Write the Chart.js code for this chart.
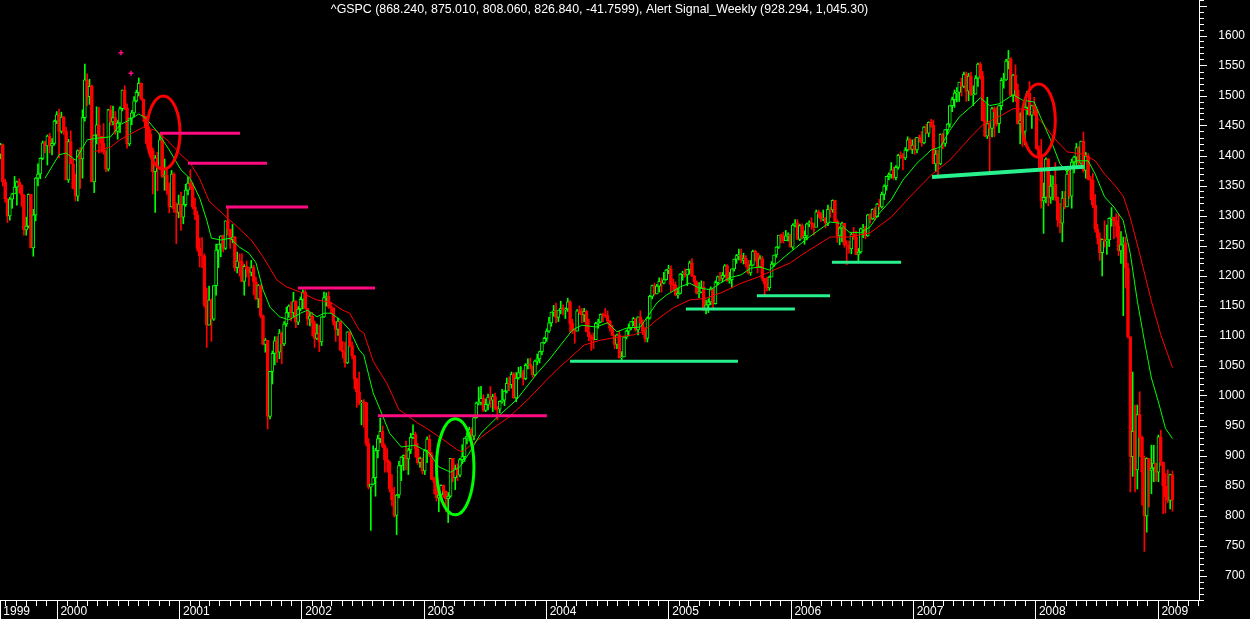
<!DOCTYPE html>
<html>
<head>
<meta charset="utf-8">
<title>^GSPC weekly</title>
<script src="https://cdn.jsdelivr.net/npm/chart.js@4.4.1/dist/chart.umd.min.js"></script>
<style>
  html, body { margin: 0; padding: 0; background: #000; }
  canvas { display: block; background: #000; }
</style>
</head>
<body>
<canvas id="chart" width="1250" height="619"></canvas>
<script>
// weekly bars, first bar = week ending 1999-07-16, last = 2009-02-13
const firstOpen = 1403;
const closes = [
  1419,1357,1329,1300,1328,1337,1348,1357,1352,1335,1277,1283,1336,1247,1302,1363,1370,1396,1422,1417,1433,1417,1421,1458,1469,
  1441,1465,1441,1360,1424,1387,1346,1333,1409,1395,1464,1527,1499,1516,1357,1435,1452,1433,1421,1407,1378,1477,1457,1464,1441,1455,1479,1510,1480,1420,1463,1472,1492,1506,1521,1495,1466,1449,1437,1409,1374,1397,1380,1427,1366,1368,1342,1315,1370,1312,1306,1320,
  1298,1319,1343,1355,1349,1315,1302,1246,1234,1233,1151,1118,1160,1128,1184,1243,1253,1267,1246,1292,1278,1261,1265,1214,1225,1224,1191,1216,1211,1206,1214,1190,1162,1185,1134,1086,1093,966,1041,1071,1092,1073,1105,1087,1120,1139,1150,1139,1158,1123,1145,1161,
  1173,1146,1128,1133,1122,1096,1104,1090,1132,1164,1166,1149,1147,1123,1111,1125,1076,1073,1055,1107,1084,1067,1028,1007,989,990,989,921,848,853,864,909,929,941,916,894,890,845,827,801,835,884,898,901,895,910,931,936,912,889,896,875,
  909,928,902,861,856,830,835,851,841,829,833,896,864,879,868,894,899,930,933,944,933,964,988,989,996,976,986,998,993,999,980,978,991,993,1008,1021,1019,1036,997,1030,1039,1039,1029,1051,1053,1050,1035,1058,1062,1074,1089,1096,
  1108,1122,1140,1142,1131,1143,1146,1144,1145,1157,1121,1110,1108,1142,1139,1135,1141,1107,1099,1096,1094,1121,1123,1136,1135,1134,1125,1113,1101,1086,1102,1064,1065,1098,1108,1114,1124,1129,1110,1132,1122,1108,1096,1130,1166,1184,1170,1183,1191,1188,1194,1210,1212,
  1186,1185,1168,1171,1203,1205,1202,1211,1222,1200,1190,1171,1173,1181,1143,1152,1157,1179,1154,1189,1199,1196,1201,1217,1192,1194,1212,1228,1234,1235,1226,1230,1220,1205,1218,1241,1238,1215,1229,1196,1187,1180,1198,1220,1235,1248,1268,1265,1259,1267,1269,1248,
  1285,1288,1261,1284,1264,1267,1287,1289,1287,1281,1307,1303,1295,1296,1288,1311,1310,1326,1291,1267,1280,1288,1252,1251,1245,1270,1265,1236,1240,1279,1280,1267,1302,1295,1311,1299,1320,1315,1336,1350,1366,1369,1377,1364,1381,1401,1400,1397,1410,1427,1411,1418,
  1410,1431,1430,1422,1448,1438,1456,1451,1387,1403,1387,1436,1421,1444,1453,1484,1494,1505,1506,1523,1516,1536,1508,1533,1502,1503,1530,1553,1534,1459,1433,1454,1446,1479,1474,1454,1484,1526,1527,1558,1562,1501,1535,1510,1454,1459,1441,1481,1505,1468,1484,1478,
  1412,1401,1325,1331,1395,1331,1350,1353,1331,1293,1288,1330,1315,1370,1333,1390,1398,1414,1388,1425,1376,1400,1361,1360,1318,1278,1263,1239,1261,1258,1260,1296,1298,1292,1283,1242,1252,1255,1213,1099,899,941,877,969,931,873,800,896,876,880,888,873,
  932,890,850,832,826,869,827
];
const highs = [
  1421,1420,1361,1329,1331,1338,1366,1358,1362,1352,1336,1298,1337,1336,1311,1364,1387,1397,1425,1425,1435,1438,1429,1460,1474,
  1478,1473,1466,1448,1428,1442,1395,1370,1410,1414,1477,1553,1537,1528,1518,1435,1482,1481,1430,1454,1410,1478,1484,1483,1474,1459,1482,1510,1517,1487,1463,1476,1499,1510,1530,1522,1495,1466,1461,1443,1413,1401,1406,1437,1438,1395,1379,1355,1376,1372,1322,1335,
  1340,1333,1353,1365,1377,1355,1330,1308,1263,1264,1237,1180,1183,1162,1184,1253,1253,1267,1268,1292,1316,1278,1286,1266,1240,1237,1237,1219,1225,1215,1226,1218,1198,1186,1185,1135,1096,1092,1041,1075,1099,1099,1111,1107,1124,1148,1152,1157,1173,1159,1149,1165,
  1177,1176,1146,1139,1139,1125,1120,1118,1132,1173,1172,1174,1156,1147,1124,1130,1125,1091,1090,1107,1107,1090,1068,1030,1040,993,994,990,929,853,917,913,935,963,950,920,912,892,869,848,836,891,899,902,925,913,938,952,940,921,898,897,
  911,932,935,906,865,865,843,852,852,842,839,896,896,885,887,896,919,930,939,948,947,965,990,1015,1016,1002,995,1003,1016,1003,1005,982,992,1011,1009,1030,1032,1040,1039,1039,1048,1049,1043,1054,1062,1063,1050,1060,1070,1075,1089,1098,
  1112,1131,1140,1151,1155,1143,1158,1152,1147,1163,1159,1128,1111,1144,1150,1146,1146,1143,1128,1102,1105,1123,1128,1137,1138,1146,1142,1126,1118,1102,1103,1108,1074,1099,1110,1120,1124,1131,1129,1132,1142,1127,1114,1131,1168,1185,1188,1186,1197,1197,1206,1211,1218,
  1217,1195,1190,1180,1204,1208,1212,1211,1225,1229,1201,1192,1189,1192,1191,1160,1162,1182,1177,1192,1200,1206,1206,1219,1219,1206,1212,1228,1236,1245,1245,1238,1234,1226,1226,1243,1243,1238,1234,1233,1196,1198,1200,1224,1235,1249,1268,1270,1273,1276,1272,1270,
  1287,1294,1294,1286,1287,1275,1288,1292,1297,1288,1310,1310,1306,1310,1298,1318,1315,1327,1326,1294,1282,1290,1288,1259,1258,1272,1281,1275,1246,1280,1286,1283,1303,1304,1312,1314,1321,1328,1340,1352,1366,1372,1389,1382,1384,1403,1407,1404,1414,1432,1430,1427,
  1429,1431,1435,1441,1449,1453,1457,1461,1460,1410,1410,1437,1438,1444,1454,1484,1498,1510,1514,1523,1530,1540,1540,1538,1540,1517,1534,1555,1556,1541,1488,1498,1456,1481,1482,1482,1485,1530,1538,1561,1576,1564,1536,1552,1520,1472,1463,1489,1508,1524,1485,1498,
  1478,1417,1428,1355,1397,1396,1368,1367,1389,1332,1321,1341,1341,1380,1380,1395,1400,1421,1416,1425,1440,1406,1404,1366,1371,1336,1286,1272,1262,1292,1285,1297,1314,1298,1304,1303,1274,1265,1265,1221,1098,1040,985,985,1007,933,900,897,896,918,918,888,
  935,943,890,871,877,870,875
];
const lows = [
  1395,1350,1323,1289,1293,1313,1338,1318,1338,1316,1268,1268,1280,1247,1233,1292,1350,1362,1394,1405,1385,1405,1402,1418,1454,
  1397,1438,1436,1360,1356,1387,1345,1325,1325,1346,1363,1458,1484,1486,1357,1339,1420,1405,1406,1403,1374,1375,1451,1452,1436,1428,1439,1475,1477,1413,1417,1452,1465,1490,1500,1493,1457,1421,1425,1405,1337,1306,1342,1379,1364,1343,1336,1305,1315,1306,1254,1297,
  1276,1287,1316,1335,1344,1312,1294,1241,1215,1214,1148,1081,1118,1091,1126,1168,1214,1232,1240,1244,1268,1246,1255,1208,1205,1200,1190,1168,1198,1183,1200,1169,1160,1147,1130,1085,1073,945,962,1020,1052,1056,1062,1054,1084,1116,1131,1125,1132,1114,1119,1142,
  1145,1145,1118,1117,1100,1081,1094,1074,1084,1131,1150,1146,1139,1118,1091,1101,1076,1063,1048,1054,1082,1062,1012,981,985,952,948,917,845,776,852,833,897,922,914,873,873,840,817,798,769,830,859,876,877,869,904,929,898,886,881,870,
  869,889,899,860,837,825,807,828,831,807,789,831,857,844,859,865,887,891,920,925,915,927,963,985,985,974,974,977,981,974,977,960,972,988,984,1005,1009,1013,996,990,1028,1031,1018,1027,1045,1045,1031,1034,1052,1055,1069,1087,
  1091,1106,1116,1133,1122,1124,1137,1135,1129,1141,1106,1104,1088,1108,1136,1122,1124,1107,1092,1076,1079,1094,1113,1122,1124,1131,1120,1108,1101,1079,1079,1063,1060,1065,1095,1100,1110,1117,1108,1102,1120,1102,1090,1090,1128,1162,1168,1170,1173,1173,1187,1193,1204,
  1173,1176,1167,1163,1170,1193,1198,1184,1203,1199,1184,1170,1164,1172,1142,1137,1139,1152,1146,1153,1185,1192,1190,1198,1191,1188,1181,1208,1221,1227,1222,1220,1215,1203,1201,1217,1225,1205,1214,1192,1168,1175,1176,1201,1216,1231,1246,1255,1255,1259,1258,1248,
  1245,1282,1261,1259,1262,1253,1260,1282,1278,1268,1282,1298,1291,1292,1280,1284,1298,1306,1290,1256,1252,1257,1248,1219,1238,1237,1261,1235,1225,1238,1264,1262,1266,1288,1294,1293,1298,1310,1313,1327,1343,1360,1363,1361,1360,1378,1396,1377,1394,1408,1410,1404,
  1403,1405,1423,1416,1420,1437,1432,1448,1387,1374,1364,1385,1412,1416,1437,1448,1474,1481,1490,1491,1500,1514,1491,1492,1501,1484,1503,1516,1528,1458,1432,1429,1371,1432,1432,1450,1439,1477,1513,1526,1545,1500,1490,1491,1453,1420,1416,1419,1469,1467,1446,1468,
  1411,1380,1313,1271,1322,1317,1321,1327,1326,1282,1272,1257,1312,1315,1329,1313,1372,1384,1384,1386,1373,1363,1360,1327,1314,1273,1253,1226,1200,1248,1236,1249,1283,1262,1265,1234,1221,1134,1180,1097,840,866,840,845,899,818,741,773,815,837,857,858,
  857,884,804,805,822,812,808
];

// Alert Signal lines: [week index, level]
const fastMa = [[19,1363],[25,1402],[28,1405],[32,1393],[37,1427],[42,1430],[47,1432],[51,1452],[55,1460],[59,1470],[62,1463],[67,1440],[72,1410],[77,1377],[81,1362],[85,1330],[88,1293],[90,1263],[94,1260],[98,1263],[102,1248],[106,1238],[109,1222],[112,1177],[115,1148],[119,1132],[123,1127],[128,1138],[131,1143],[135,1132],[138,1138],[141,1138],[145,1127],[149,1110],[153,1077],[155,1068],[159,1005],[162,977],[166,938],[171,915],[177,918],[183,905],[187,882],[192,873],[196,882],[200,905],[205,938],[212,965],[220,993],[229,1038],[234,1060],[239,1085],[244,1110],[248,1118],[254,1115],[259,1122],[263,1107],[267,1113],[273,1115],[276,1132],[280,1155],[284,1168],[290,1182],[294,1188],[298,1180],[303,1177],[307,1188],[311,1197],[316,1202],[320,1213],[324,1215],[328,1210],[333,1227],[337,1240],[345,1265],[354,1290],[358,1288],[362,1273],[367,1272],[371,1282],[375,1305],[380,1327],[385,1360],[391,1388],[397,1410],[401,1415],[405,1443],[409,1465],[414,1482],[418,1497],[422,1484],[426,1487],[432,1502],[436,1493],[441,1490],[444,1462],[448,1427],[452,1387],[455,1373],[459,1392],[464,1392],[467,1370],[471,1332],[475,1315],[479,1292],[482,1237],[485,1158],[488,1092],[491,1030],[494,990],[497,946],[500,929]];
const slowMa = [[40,1407],[47,1415],[51,1427],[57,1440],[61,1448],[66,1443],[71,1427],[77,1402],[81,1388],[85,1362],[89,1325],[95,1303],[101,1282],[107,1260],[112,1232],[118,1193],[122,1182],[128,1173],[135,1160],[141,1156],[146,1143],[149,1138],[153,1110],[155,1105],[159,1058],[165,1020],[170,977],[172,972],[178,955],[183,943],[189,927],[195,910],[197,907],[202,922],[209,943],[217,965],[226,998],[233,1027],[239,1050],[242,1060],[249,1085],[256,1093],[263,1098],[270,1102],[274,1107],[280,1127],[287,1147],[294,1160],[301,1163],[308,1173],[316,1188],[323,1198],[330,1210],[337,1222],[341,1233],[345,1243],[354,1265],[362,1265],[371,1272],[380,1298],[388,1332],[397,1368],[405,1393],[414,1432],[419,1452],[424,1462],[428,1470],[432,1479],[439,1477],[445,1453],[449,1432],[455,1407],[462,1403],[467,1392],[471,1370],[475,1353],[479,1333],[482,1297],[486,1237],[491,1158],[495,1102],[500,1047]];

// drawn resistance / support lines: [level at start, level at end, first week, last week]
const resistLines = [[1438,1438,68,102.2],[1388,1388,80,113.7],[1315,1315,96.2,131.2],[1180,1180,126.9,159.8],[967,967,161,233.1]];
const supportLines = [[1058,1058,243,314.6],[1145,1145,292.4,338.9],[1167,1167,322.7,353.9],[1223,1223,354.7,384.2],[1365,1382,397.4,462.2]];
// rings: [centre week, centre level, half width in weeks, half height in points]
const redRings = [[69.5,1439,7.1,61],[442.9,1459,7.1,61]];
const greenRings = [[194,882,8,80]];
const signalMarks = [[51.4,1572],[55.7,1538]];

const yearLabels = ['1999','2000','2001','2002','2003','2004','2005','2006','2007','2008','2009'];
const titleText = '^GSPC (868.240, 875.010, 808.060, 826.840, -41.7599), Alert Signal_Weekly (928.294, 1,045.30)';

const xMin = -0.2, xMax = 511.3;
const GREEN = '#00ff00', RED = '#ff0000', PINK = '#ff0a80', MINT = '#28f08c';

const opens = closes.map((c, i) => i === 0 ? firstOpen : closes[i - 1]);
const up = closes.map((c, i) => c >= opens[i]);
const wicks = closes.map((c, i) => ({ x: i, y: [lows[i], highs[i]] }));
const bodies = closes.map((c, i) => ({ x: i, y: [opens[i], c] }));

// month ticks along the time axis
const t0 = Date.UTC(1999, 6, 16), WEEK = 7 * 864e5;
const axisTicks = [{ value: xMin, label: yearLabels[0], year: true }];
for (let yr = 1999; yr <= 2009; yr++) {
  for (let m = 0; m < 12; m++) {
    const v = (Date.UTC(yr, m, 1) - t0) / WEEK;
    if (v > 1 && v < xMax) axisTicks.push({ value: v, label: m === 0 ? yearLabels[yr - 1999] : '', year: m === 0 });
  }
}

function segment(l, color, width) {
  return { type: 'line', data: [{ x: l[2], y: l[0] }, { x: l[3], y: l[1] }], borderColor: color, borderWidth: width,
           pointRadius: 0, order: 1, borderCapStyle: 'butt' };
}

const datasets = [
  { type: 'bar', data: wicks, backgroundColor: up.map(u => u ? GREEN : RED), barThickness: 1, grouped: false, order: 5 },
  { type: 'bar', data: bodies, backgroundColor: up.map(u => u ? '#000' : RED), borderColor: up.map(u => u ? GREEN : RED),
    borderWidth: 1, borderSkipped: false, barThickness: 3, grouped: false, order: 4 },
  { type: 'line', data: slowMa.map(p => ({ x: p[0], y: p[1] })), borderColor: RED, borderWidth: 1, pointRadius: 0, order: 3 },
  { type: 'line', data: fastMa.map(p => ({ x: p[0], y: p[1] })), borderColor: GREEN, borderWidth: 1, pointRadius: 0, order: 2 },
];
resistLines.forEach(l => datasets.push(segment(l, PINK, 3)));
supportLines.forEach((l, i) => datasets.push(segment(l, MINT, i === 4 ? 4 : 3)));
datasets.push({ type: 'scatter', data: signalMarks.map(p => ({ x: p[0], y: p[1] })), pointStyle: 'crossRot', rotation: 45,
  pointRadius: 2.5, borderColor: PINK, borderWidth: 1.5, order: 1 });
const FAST_INDEX = 3;

const extras = {
  id: 'extras',
  afterDatasetDraw(chart, args) {
    if (args.index !== FAST_INDEX) return;
    const { ctx, scales: { x, y } } = chart;
    ctx.save();
    ctx.lineWidth = 3;
    const ring = (r, color) => {
      const cx = x.getPixelForValue(r[0]), cy = y.getPixelForValue(r[1]);
      const rx = Math.abs(x.getPixelForValue(r[0] + r[2]) - cx);
      const ry = Math.abs(y.getPixelForValue(r[1] + r[3]) - cy);
      ctx.strokeStyle = color;
      ctx.beginPath();
      ctx.ellipse(cx, cy, rx, ry, 0, 0, Math.PI * 2);
      ctx.stroke();
    };
    redRings.forEach(r => ring(r, RED));
    greenRings.forEach(r => ring(r, GREEN));
    ctx.restore();
  },
  afterDraw(chart) {
    const { ctx, chartArea } = chart;
    ctx.save();
    ctx.fillStyle = '#fff';
    ctx.font = '12.4px "Liberation Sans", Arial, sans-serif';
    ctx.textAlign = 'center';
    ctx.textBaseline = 'middle';
    ctx.fillText(titleText, (chartArea.left + chartArea.right) / 2, 10);
    ctx.restore();
  }
};

Chart.defaults.font.family = '"Liberation Sans", Arial, sans-serif';
Chart.defaults.font.size = 12;
Chart.defaults.color = '#fff';

new Chart(document.getElementById('chart'), {
  type: 'bar',
  data: { datasets },
  plugins: [extras],
  options: {
    responsive: false,
    animation: false,
    devicePixelRatio: 1,
    events: [],
    layout: { padding: { left: 0, top: 0, bottom: 0, right: 5 }, autoPadding: false },
    plugins: { legend: { display: false }, tooltip: { enabled: false }, title: { display: false } },
    scales: {
      x: {
        type: 'linear', min: xMin, max: xMax, offset: false,
        afterBuildTicks(s) { s.ticks = axisTicks.map(t => ({ value: t.value })); },
        afterFit(s) { s.height = 19; s.paddingLeft = 0; s.paddingRight = 0; s.paddingTop = 0; s.paddingBottom = 0; },
        grid: { drawOnChartArea: false, offset: false, color: '#fff', tickLength: 19,
                tickBorderDash: c => (axisTicks[c.index] && axisTicks[c.index].year) ? [] : [5, 40] },
        border: { color: '#fff', width: 1 },
        ticks: { color: '#fff', autoSkip: false, maxRotation: 0, align: 'start', padding: -15,
                 callback: (v, i) => axisTicks[i] && axisTicks[i].label ? ' ' + axisTicks[i].label : '' }
      },
      y: {
        position: 'right', min: 660, max: 1660,
        afterFit(s) { s.width = 46; s.paddingTop = 0; s.paddingBottom = 0; s.paddingLeft = 0; s.paddingRight = 0; },
        grid: { drawOnChartArea: false, color: '#fff', tickLength: 8,
                tickBorderDash: c => (c.tick && c.tick.value % 50 === 0) ? [] : [4, 20] },
        border: { color: '#fff', width: 1 },
        ticks: { stepSize: 10, autoSkip: false, color: '#fff', crossAlign: 'far', padding: 5,
                 callback: v => (v % 50 === 0 && v >= 700 && v <= 1600) ? String(v) : '' }
      }
    }
  }
});
</script>
</body>
</html>
